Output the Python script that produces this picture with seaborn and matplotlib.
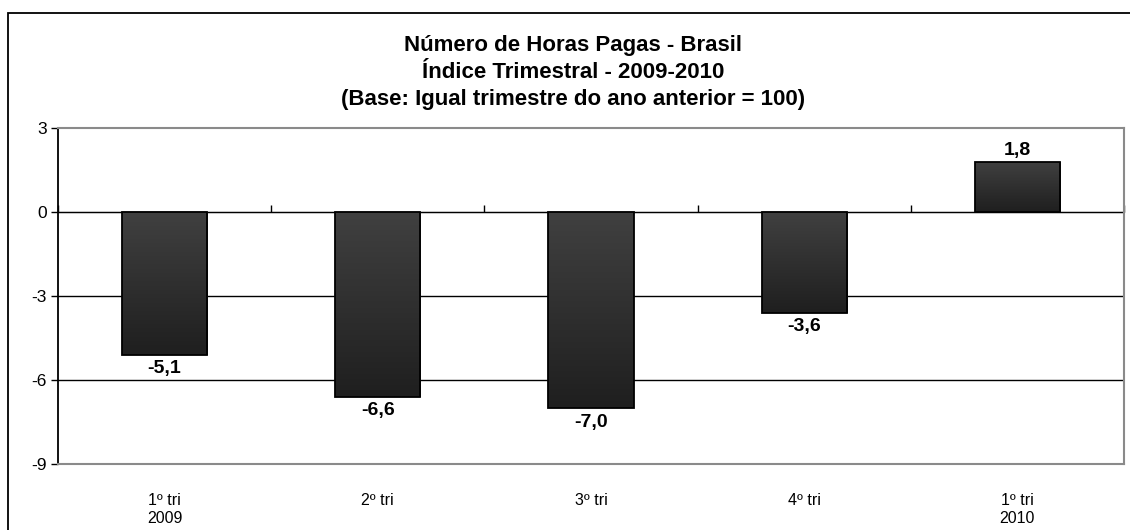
#Numero de Horas Pagas - Brasil, indice trimestral
import numpy as np
import pandas as pd
import seaborn as sns
import matplotlib.pyplot as plt
from matplotlib.patches import Rectangle
from matplotlib.colors import LinearSegmentedColormap

# data
quarters = ['1º tri\n2009', '2º tri', '3º tri', '4º tri', '1º tri\n2010']
values = [-5.1, -6.6, -7.0, -3.6, 1.8]
title_lines = ['Número de Horas Pagas - Brasil',
               'Índice Trimestral - 2009-2010',
               '(Base: Igual trimestre do ano anterior = 100)']

df = pd.DataFrame({'trimestre': quarters, 'valor': values})

sns.set_style('white')
plt.rcParams['font.family'] = ['Liberation Sans', 'DejaVu Sans']
plt.rcParams['text.color'] = 'black'
plt.rcParams['xtick.labelcolor'] = 'black'
plt.rcParams['ytick.labelcolor'] = 'black'

fig = plt.figure(figsize=(11.3, 5.3), dpi=100)
ax = fig.add_axes([58/1130, 1 - 464/530, (1124 - 58)/1130, (464 - 128)/530])

sns.barplot(data=df, x='trimestre', y='valor', color='#2e2e2e', width=0.4,
            edgecolor='black', linewidth=1.3, saturation=1, ax=ax)

# gradient fill inside the bars
grad = LinearSegmentedColormap.from_list('g', ['#1f1f1f', '#404040'])
for bar in ax.patches:
    x0, y0 = bar.get_x(), bar.get_y()
    w, h = bar.get_width(), bar.get_height()
    ylo, yhi = min(y0, y0 + h), max(y0, y0 + h)
    im = ax.imshow(np.linspace(0, 1, 100).reshape(-1, 1), cmap=grad, origin='lower',
                   extent=[x0, x0 + w, ylo, yhi], aspect='auto', zorder=bar.get_zorder())
    im.set_clip_path(bar)
    bar.set_facecolor('none')
    bar.set_zorder(bar.get_zorder() + 0.1)

ax.set_xlim(-0.5, len(quarters) - 0.5)
ax.set_ylim(-9, 3)
ax.set_yticks([3, 0, -3, -6, -9])
ax.set_yticklabels(['3', '0', '-3', '-6', '-9'])
ax.tick_params(axis='y', direction='out', length=5, width=1, color='black',
               labelsize=12.5, pad=3, left=True)
ax.tick_params(axis='x', length=0, labelsize=11.5, pad=21)
ax.set_xlabel('')
ax.set_ylabel('')

for gy in [0, -3, -6]:
    ax.axhline(gy, color='black', lw=1, zorder=0.5)

ax.spines['left'].set_color('black')
ax.spines['left'].set_linewidth(1.3)
for s in ['top', 'bottom', 'right']:
    ax.spines[s].set_color('#8a8a8a')
    ax.spines[s].set_linewidth(1.5)

# small ticks between categories on the zero line
sec = ax.secondary_xaxis((0 - (-9)) / 12)
sec.set_xticks(np.arange(-0.5, len(quarters), 1))
sec.set_xticklabels([])
sec.tick_params(direction='out', length=5, width=1, color='black')
sec.spines['bottom'].set_visible(False)

# value labels
for i, v in enumerate(values):
    txt = '{:.1f}'.format(v).replace('.', ',')
    if v < 0:
        ax.annotate(txt, (i, v), xytext=(0, -4), textcoords='offset points',
                    ha='center', va='top', fontsize=14, fontweight='bold')
    else:
        ax.annotate(txt, (i, v), xytext=(0, 2), textcoords='offset points',
                    ha='center', va='bottom', fontsize=14, fontweight='bold')

# title
for k, line in enumerate(title_lines):
    fig.text(573/1130, 1 - (45 + 27.5*k)/530, line, ha='center', va='center',
             fontsize=16, fontweight='bold')

# outer frame of the chart
fig.add_artist(Rectangle((8/1130, -0.1), 1.2, 1 - 13/530 + 0.1, transform=fig.transFigure,
                         fill=False, ec='black', lw=1.3))

fig.savefig('out.png', dpi=100)
